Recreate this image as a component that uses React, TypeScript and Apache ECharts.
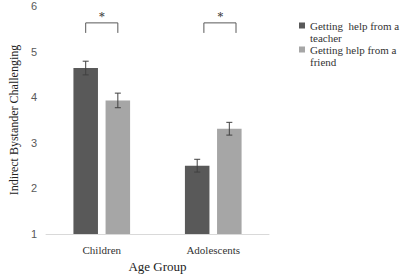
import React, { useEffect, useRef } from "react";
import * as echarts from "echarts";

const categories = ["Children", "Adolescents"];
const seriesNames = ["Getting  help from a\nteacher", "Getting help from a\nfriend"];
const teacherMeans = [4.64, 2.5];
const friendMeans = [3.93, 3.31];
const teacherErrors = [0.15, 0.14];
const friendErrors = [0.16, 0.14];
const yMin = 1;
const yMax = 6;
const yInterval = 1;
// significance brackets: category index, bracket top value, leg end value, star value
const bracketCats = [0, 1];
const bracketTops = [5.63, 5.63];
const bracketLegs = [5.41, 5.41];
const starValues = [5.78, 5.78];
const starLabels = ["*", "*"];

const DARK = "#595959";
const LIGHT = "#a6a6a6";
const BAR_W = 0.22;
const BAR_GAP = 0.31;
const BRACKET_SHIFT = [0, 0.06];
const W = 400;
const GRID_L = 32;
const GRID_R = 131;

function barOffset(api: any, s: number) {
  const band = api.size([1, 0])[0];
  const bw = band * BAR_W;
  const step = bw * (1 + BAR_GAP);
  return ((s === 0 ? -1 : 1) * step) / 2;
}

export default function App() {
  const ref = useRef<HTMLDivElement>(null);
  useEffect(() => {
    if (!ref.current) return;
    const chart = echarts.init(ref.current, undefined, { renderer: "svg" });
    const errData: number[][] = [];
    teacherMeans.forEach((m, i) => errData.push([i, m, teacherErrors[i], 0]));
    friendMeans.forEach((m, i) => errData.push([i, m, friendErrors[i], 1]));
    const bracketData = bracketCats.map((c, i) => [c, bracketTops[i], bracketLegs[i], i]);
    const bandPx = (W - GRID_L - GRID_R) / categories.length;
    const starData = bracketCats.map((c, i) => ({
      value: [c, starValues[i]],
      label: { offset: [BRACKET_SHIFT[i] * bandPx, 0], formatter: starLabels[i] },
    }));

    chart.setOption({
      animation: false,
      grid: { left: GRID_L, right: GRID_R, top: 6, bottom: 39 },
      legend: {
        orient: "vertical",
        left: 299,
        top: 20,
        padding: 0,
        itemGap: 0,
        itemWidth: 6,
        itemHeight: 19,
        selectedMode: false,
        data: [
          { name: seriesNames[0], icon: "path://M0,0L6,0L6,6L0,6Z M0,19L0.001,19" },
          { name: seriesNames[1], icon: "path://M0,0L6,0L6,6L0,6Z M0,19L0.001,19" },
        ],
        textStyle: {
          fontFamily: "Liberation Serif",
          fontSize: 11,
          lineHeight: 12,
          color: "#333",
        },
      },
      xAxis: {
        type: "category",
        data: categories,
        name: "Age Group",
        nameLocation: "middle",
        nameGap: 25,
        nameTextStyle: { fontFamily: "Liberation Serif", fontSize: 13, color: "#222" },
        axisLine: { lineStyle: { color: "#d9d9d9", width: 1 } },
        axisTick: { show: false },
        axisLabel: { fontFamily: "Liberation Serif", fontSize: 11, color: "#333", margin: 10 },
      },
      yAxis: {
        type: "value",
        min: yMin,
        max: yMax,
        interval: yInterval,
        name: "Indirect Bystander Challenging",
        nameLocation: "middle",
        nameGap: 24,
        nameTextStyle: { fontFamily: "Liberation Serif", fontSize: 12, color: "#222" },
        axisLine: { show: false },
        axisTick: { show: false },
        splitLine: { show: false },
        axisLabel: { fontFamily: "Liberation Sans", fontSize: 11, color: "#595959", margin: 9 },
      },
      series: [
        {
          name: seriesNames[0],
          type: "bar",
          data: teacherMeans,
          barWidth: "22%",
          barGap: "31%",
          itemStyle: { color: DARK },
        },
        {
          name: seriesNames[1],
          type: "bar",
          data: friendMeans,
          barWidth: "22%",
          barGap: "31%",
          itemStyle: { color: LIGHT },
        },
        {
          type: "custom",
          data: errData,
          encode: { x: 0, y: 1 },
          z: 10,
          itemStyle: { color: "#404040" },
          renderItem: (params: any, api: any) => {
            const c = api.value(0);
            const m = api.value(1);
            const e = api.value(2);
            const s = api.value(3);
            const off = barOffset(api, s);
            const top = api.coord([c, m + e]);
            const bot = api.coord([c, m - e]);
            const x = top[0] + off;
            const cap = 3;
            const st = { stroke: "#404040", lineWidth: 1 };
            return {
              type: "group",
              children: [
                { type: "line", shape: { x1: x, y1: top[1], x2: x, y2: bot[1] }, style: st },
                { type: "line", shape: { x1: x - cap, y1: top[1], x2: x + cap, y2: top[1] }, style: st },
                { type: "line", shape: { x1: x - cap, y1: bot[1], x2: x + cap, y2: bot[1] }, style: st },
              ],
            };
          },
        },
        {
          type: "custom",
          data: bracketData,
          encode: { x: 0, y: 1 },
          z: 10,
          clip: false,
          itemStyle: { color: "#595959" },
          renderItem: (params: any, api: any) => {
            const c = api.value(0);
            const topV = api.value(1);
            const legV = api.value(2);
            const idx = api.value(3);
            const band = api.size([1, 0])[0];
            const shift = BRACKET_SHIFT[idx] * band;
            const p = api.coord([c, topV]);
            const yTop = p[1];
            const yLeg = api.coord([c, legV])[1];
            const x0 = p[0] + barOffset(api, 0) + shift;
            const x1 = p[0] + barOffset(api, 1) + shift;
            return {
              type: "polyline",
              shape: { points: [[x0, yLeg], [x0, yTop], [x1, yTop], [x1, yLeg]] },
              style: { stroke: "#595959", lineWidth: 1, fill: "none" },
            };
          },
        },
        {
          type: "scatter",
          data: starData,
          symbolSize: 0,
          z: 10,
          silent: true,
          itemStyle: { color: "#222222" },
          label: {
            show: true,
            position: "inside",
            color: "#111111",
            fontFamily: "DejaVu Serif",
            fontWeight: "bold",
            fontSize: 11,
          },
        },
      ],
    });
    return () => chart.dispose();
  }, []);
  return <div ref={ref} style={{ width: 400, height: 278, position: "absolute", left: 0, top: 0, background: "#fff" }} />;
}
